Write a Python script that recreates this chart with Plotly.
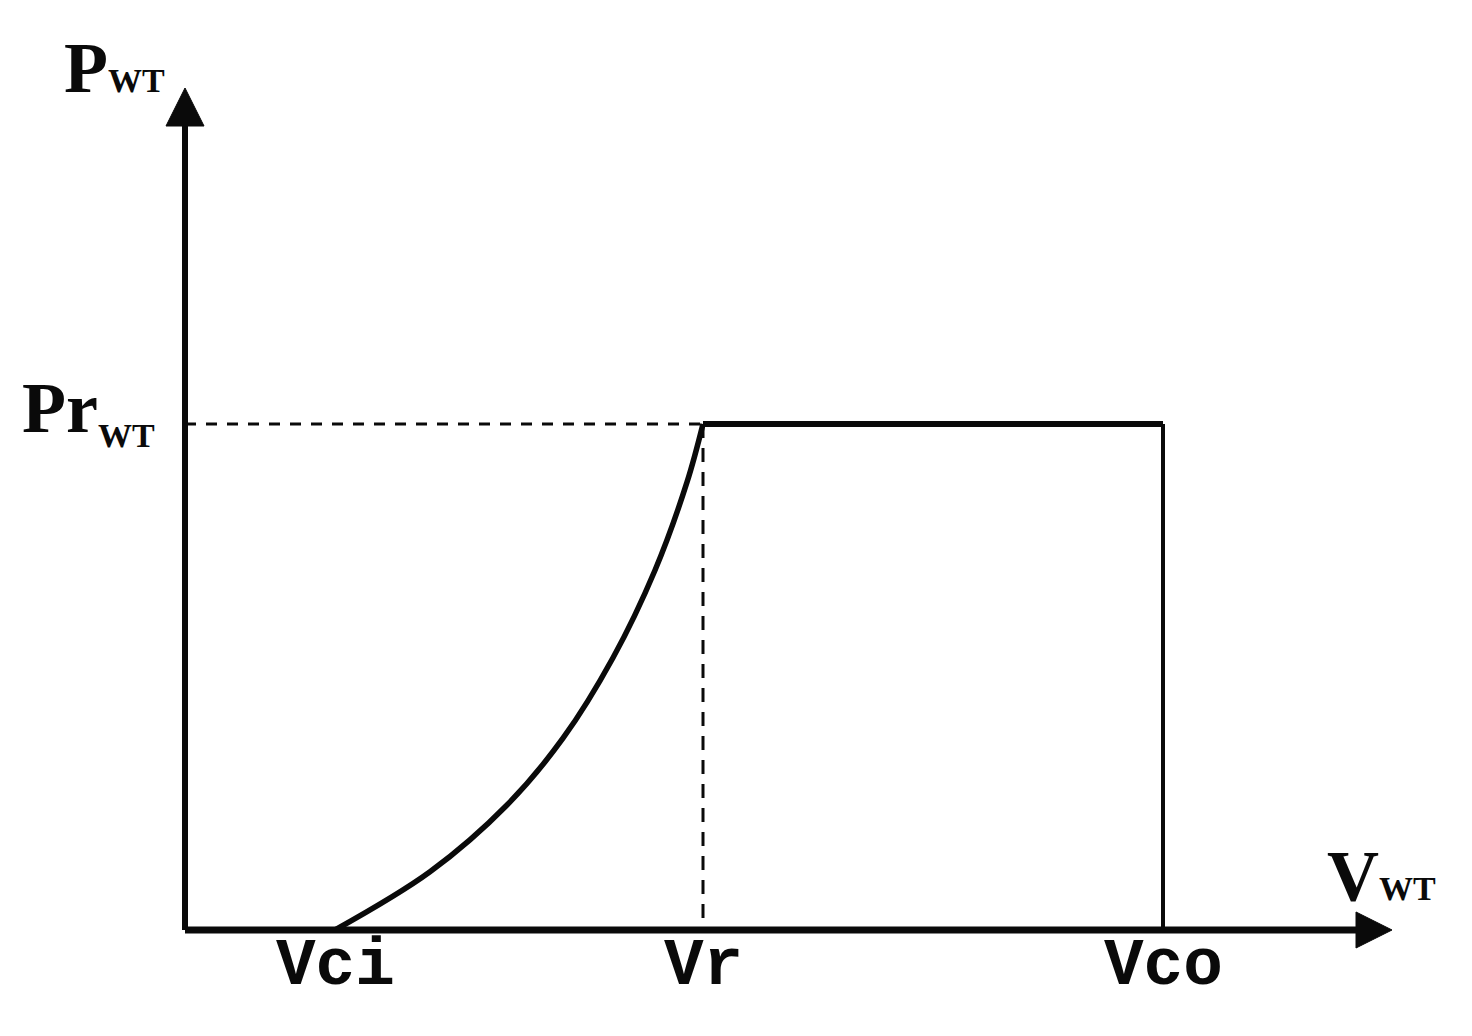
import plotly.graph_objects as go

# Wind turbine power curve (schematic), wind speed in m/s, power as fraction of rated
v_ci = 3.0
v_r = 10.36
v_co = 19.56
p_rated = 1.0

# rising part of the curve
v_curve = [3.0, 4.9, 6.44, 7.56, 8.56, 9.4, 10.04, 10.36]
p_curve = [0.0, 0.115, 0.247, 0.379, 0.538, 0.711, 0.885, 1.0]

# rated plateau and cut-out drop
v_flat = [v_r, v_co, v_co]
p_flat = [p_rated, p_rated, 0.0]

# axis extents (arrow tips)
x_axis_end = 24.14
y_axis_end = 1.664

tick_vals = [v_ci, v_r, v_co]
tick_text = ["Vci", "Vr", "Vco"]

INK = "#0a0a0a"
SERIF = "Liberation Serif"
MONO = "Liberation Mono"

fig = go.Figure()


def add_line(x, y, width, dash="solid", shape="linear"):
    fig.add_trace(go.Scatter(
        x=x, y=y, mode="lines",
        line=dict(color=INK, width=width, dash=dash, shape=shape),
        hoverinfo="skip", showlegend=False,
    ))


# guide lines to rated power / rated speed
add_line([0, v_r], [p_rated, p_rated], 3, dash="11px,10px")
add_line([v_r, v_r], [p_rated, 0], 3, dash="14px,10px")

# power curve
add_line(v_curve, p_curve, 5.5, shape="spline")
add_line(v_flat[:2], p_flat[:2], 6)
add_line(v_flat[1:], p_flat[1:], 4)

# axes
add_line([0, x_axis_end - 0.3], [0, 0], 7)
add_line([0, 0], [0, y_axis_end - 0.03], 6)

# arrow heads (tip sits on the point)
fig.add_trace(go.Scatter(
    x=[x_axis_end, 0], y=[0, y_axis_end], mode="markers",
    marker=dict(symbol=["arrow-right", "arrow-up"], size=[36, 38], color=INK,
                opacity=1, line=dict(width=1, color=INK)),
    opacity=1, hoverinfo="skip", showlegend=False,
))

# tick labels under the x axis
for v, t in zip(tick_vals, tick_text):
    fig.add_annotation(x=v, y=0.006, xref="x", yref="y", text=f"<b>{t}</b>", showarrow=False,
                       xanchor="center", yanchor="top", font=dict(family=MONO, size=66, color=INK))

# axis titles
fig.add_annotation(x=-1.42, y=1.62, xref="x", yref="y", showarrow=False,
                   text="<b>P</b><span style='font-size:34px'><b>WT</b></span>",
                   xanchor="center", yanchor="bottom", font=dict(family=SERIF, size=72, color=INK))
fig.add_annotation(x=-1.94, y=0.936, xref="x", yref="y", showarrow=False,
                   text="<b>Pr</b><sub><span style='font-size:34px'><b>WT</b></span></sub>",
                   xanchor="center", yanchor="bottom", font=dict(family=SERIF, size=72, color=INK))
fig.add_annotation(x=23.92, y=0.024, xref="x", yref="y", showarrow=False,
                   text="<b>V</b><span style='font-size:34px'><b>WT</b></span>",
                   xanchor="center", yanchor="bottom", font=dict(family=SERIF, size=72, color=INK))

fig.update_layout(
    width=1456, height=1020,
    margin=dict(l=0, r=0, t=0, b=0),
    paper_bgcolor="white", plot_bgcolor="white",
    showlegend=False,
    xaxis=dict(range=[-3.54, 25.58], visible=False, fixedrange=True),
    yaxis=dict(range=[-0.1937, 1.8221], visible=False, fixedrange=True),
)

fig.write_html("out.html", config={"displayModeBar": False})
